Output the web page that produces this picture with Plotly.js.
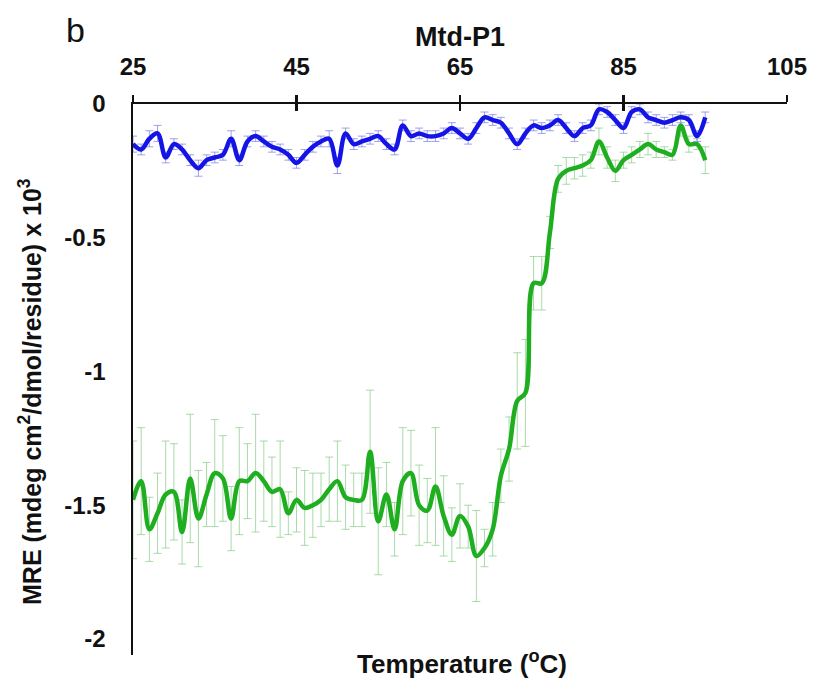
<!DOCTYPE html>
<html>
<head>
<meta charset="utf-8">
<script src="https://cdn.plot.ly/plotly-3.0.1.min.js"></script>
<style>html,body{margin:0;padding:0;background:#fff;}#chart{width:819px;height:686px;}</style>
</head>
<body>
<div id="chart"></div>
<script>
// Temperature (°C)
var temperature = [25,26,27,28,29,30,31,32,33,34,35,36,37,38,39,40,41,42,43,44,45,46,47,48,49,50,51,52,53,54,55,56,57,58,59,60,61,62,63,64,65,66,67,68,69,70,71,72,73,74,75,76,77,78,79,80,81,82,83,84,85,86,87,88,89,90,91,92,93,94,95];

// Blue series MRE (x10^3)
var blueMRE = [-0.15,-0.17,-0.13,-0.11,-0.20,-0.15,-0.17,-0.21,-0.24,-0.21,-0.20,-0.19,-0.13,-0.21,-0.14,-0.12,-0.14,-0.16,-0.17,-0.19,-0.22,-0.19,-0.16,-0.14,-0.13,-0.23,-0.11,-0.15,-0.14,-0.13,-0.12,-0.15,-0.17,-0.08,-0.12,-0.11,-0.12,-0.12,-0.11,-0.09,-0.11,-0.13,-0.09,-0.05,-0.06,-0.07,-0.11,-0.15,-0.11,-0.08,-0.09,-0.08,-0.06,-0.09,-0.12,-0.09,-0.08,-0.02,-0.03,-0.06,-0.09,-0.03,-0.02,-0.05,-0.06,-0.07,-0.06,-0.05,-0.06,-0.12,-0.05];
var blueErr = [0.03,0.02,0.03,0.03,0.02,0.02,0.02,0.02,0.03,0.02,0.02,0.02,0.03,0.02,0.02,0.02,0.02,0.02,0.02,0.02,0.02,0.02,0.02,0.02,0.03,0.03,0.02,0.02,0.02,0.02,0.02,0.02,0.02,0.02,0.02,0.02,0.02,0.02,0.02,0.02,0.02,0.02,0.02,0.02,0.02,0.02,0.02,0.02,0.02,0.02,0.02,0.02,0.02,0.02,0.02,0.02,0.02,0.02,0.02,0.02,0.02,0.02,0.02,0.02,0.02,0.02,0.02,0.02,0.02,0.02,0.02];

// Green series MRE (x10^3)
var greenMRE = [-1.48,-1.41,-1.59,-1.53,-1.46,-1.45,-1.60,-1.40,-1.55,-1.46,-1.38,-1.40,-1.55,-1.41,-1.41,-1.38,-1.41,-1.45,-1.44,-1.53,-1.48,-1.51,-1.50,-1.48,-1.44,-1.41,-1.47,-1.48,-1.48,-1.30,-1.56,-1.46,-1.59,-1.41,-1.38,-1.50,-1.52,-1.43,-1.54,-1.61,-1.54,-1.58,-1.69,-1.66,-1.59,-1.39,-1.29,-1.11,-1.08,-0.67,-0.67,-0.48,-0.28,-0.25,-0.24,-0.23,-0.21,-0.14,-0.20,-0.25,-0.21,-0.19,-0.17,-0.15,-0.17,-0.18,-0.19,-0.08,-0.15,-0.15,-0.21];
var greenErr = [0.22,0.20,0.12,0.15,0.20,0.18,0.12,0.24,0.18,0.12,0.20,0.16,0.12,0.20,0.14,0.22,0.15,0.13,0.18,0.08,0.12,0.14,0.12,0.10,0.12,0.15,0.12,0.10,0.10,0.23,0.20,0.12,0.10,0.20,0.16,0.15,0.12,0.22,0.15,0.10,0.12,0.08,0.17,0.07,0.10,0.10,0.12,0.18,0.20,0.10,0.10,0.06,0.05,0.05,0.04,0.04,0.03,0.05,0.04,0.04,0.03,0.03,0.03,0.04,0.03,0.02,0.02,0.04,0.03,0.02,0.05];

var xTicks = [25,45,65,85,105];
var yTicks = [0,-0.5,-1,-1.5,-2];
var yTickText = ['0','-0.5','-1','-1.5','-2'];

var FONT = 'Arial, "Liberation Sans", sans-serif';

var traces = [
  {
    x: temperature, y: greenMRE, type: 'scatter', mode: 'lines',
    line: {color: '#1fae1f', width: 4.5, shape: 'spline', smoothing: 1},
    error_y: {type: 'data', array: greenErr, visible: true, color: 'rgba(140,205,140,0.75)', thickness: 1, width: 4},
    showlegend: false, hoverinfo: 'skip'
  },
  {
    x: temperature, y: blueMRE, type: 'scatter', mode: 'lines',
    line: {color: '#1414e6', width: 4.5, shape: 'spline', smoothing: 1},
    error_y: {type: 'data', array: blueErr, visible: true, color: 'rgba(130,130,230,0.75)', thickness: 1, width: 4},
    showlegend: false, hoverinfo: 'skip'
  },
  {x: [25], y: [0], xaxis: 'x2', type: 'scatter', mode: 'none', showlegend: false, hoverinfo: 'skip'}
];

var layout = {
  width: 819, height: 686,
  margin: {l: 133, r: 32, t: 104, b: 31, pad: 0},
  paper_bgcolor: '#ffffff', plot_bgcolor: '#ffffff',
  font: {family: FONT, color: '#111'},
  showlegend: false,
  xaxis: {
    range: [25, 105], side: 'top', tickvals: xTicks, ticktext: xTicks.map(String),
    showgrid: false, zeroline: false, showline: true, linecolor: '#111', linewidth: 2.5,
    ticks: 'outside', ticklen: 7, tickwidth: 2.5, tickcolor: '#111',
    tickfont: {family: FONT, size: 24, color: '#111', weight: 'bold'},
    ticklabelstandoff: 10, fixedrange: true
  },
  xaxis2: {
    range: [25, 105], overlaying: 'x', side: 'top', anchor: 'y', matches: 'x',
    tickvals: xTicks, showticklabels: false, showgrid: false, zeroline: false, showline: false,
    ticks: 'inside', ticklen: 7, tickwidth: 2.5, tickcolor: '#111'
  },
  yaxis: {
    range: [-2.06, 0], tickvals: yTicks, ticktext: yTickText,
    showgrid: false, zeroline: false, showline: true, linecolor: '#111', linewidth: 2.5,
    ticks: '', tickfont: {family: FONT, size: 24, color: '#111', weight: 'bold'},
    ticklabelstandoff: 20, fixedrange: true
  },
  annotations: [
    {text: 'b', xref: 'paper', yref: 'paper', x: (75-133)/654, y: (655-30)/551, xanchor: 'center', yanchor: 'middle', showarrow: false, font: {family: FONT, size: 34, color: '#111'}},
    {text: 'Mtd-P1', xref: 'paper', yref: 'paper', x: (460-133)/654, y: (655-37)/551, xanchor: 'center', yanchor: 'middle', showarrow: false, font: {family: FONT, size: 27, color: '#111', weight: 'bold'}},
    {text: 'Temperature (<sup>o</sup>C)', xref: 'paper', yref: 'paper', x: (462-133)/654, y: (655-662)/551, xanchor: 'center', yanchor: 'middle', showarrow: false, font: {family: FONT, size: 26, color: '#111', weight: 'bold'}},
    {text: 'MRE (mdeg cm<sup>2</sup>/dmol/residue) x 10<sup>3</sup>', xref: 'paper', yref: 'paper', x: (30-133)/654, y: (655-392)/551, xanchor: 'center', yanchor: 'middle', textangle: -90, showarrow: false, font: {family: FONT, size: 25, color: '#111', weight: 'bold'}}
  ]
};

Plotly.newPlot('chart', traces, layout, {staticPlot: true, displayModeBar: false});
</script>
</body>
</html>
